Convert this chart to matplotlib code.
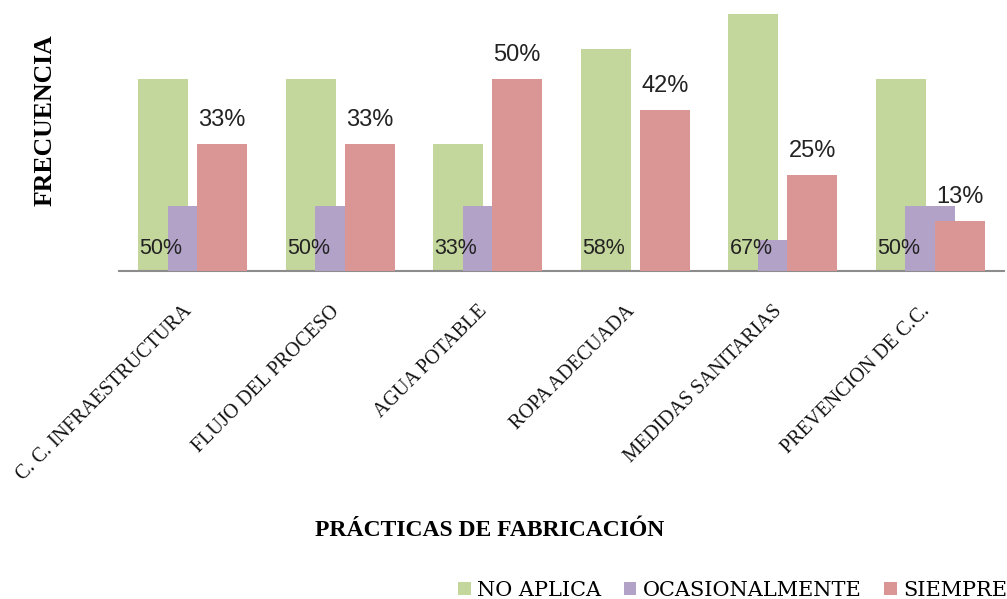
import matplotlib
matplotlib.use("Agg")
import matplotlib.pyplot as plt
from matplotlib.patches import Patch
import numpy as np

# Categories and percentage values per response
categorias = ["C. C. INFRAESTRUCTURA", "FLUJO DEL PROCESO", "AGUA POTABLE",
              "ROPA ADECUADA", "MEDIDAS SANITARIAS", "PREVENCION DE C.C."]
no_aplica = [50, 50, 33, 58, 67, 50]
ocasionalmente = [17, 17, 17, 0, 8, 17]
siempre = [33, 33, 50, 42, 25, 13]

series_names = ["NO APLICA", "OCASIONALMENTE", "SIEMPRE"]
colores = ["#C3D69B", "#B3A2C7", "#D99694"]

W, H = 1007, 599
fig = plt.figure(figsize=(W / 100, H / 100), dpi=100)
ax = fig.add_axes([119 / W, (H - 271) / H, (1004 - 119) / W, 268.5 / H])

x = np.arange(len(categorias))
ancho = 0.34
desp = 0.2

ax.bar(x - desp, no_aplica, width=ancho, color=colores[0], zorder=2)
ax.bar(x, ocasionalmente, width=ancho, color=colores[1], zorder=3)
ax.bar(x + desp, siempre, width=ancho, color=colores[2], zorder=4)

ax.set_xlim(-0.5, len(categorias) - 0.5)
ax.set_ylim(0, 70)

# value labels: SIEMPRE above its bar, NO APLICA at the base of its bar
for xi, v in zip(x, siempre):
    ax.annotate(f"{v}%", (xi + desp, v), xytext=(0, 17.3), textcoords="offset points",
                ha="center", va="center", fontsize=17, family="Liberation Sans",
                color="#222222", zorder=6, annotation_clip=False)
for xi, v in zip(x, no_aplica):
    ax.annotate(f"{v}%", (xi - desp, 0), xytext=(-1.6, 16.5), textcoords="offset points",
                ha="center", va="center", fontsize=15.5, family="Liberation Sans",
                color="#222222", zorder=6, annotation_clip=False)

ax.set_xticks(x)
ax.set_xticklabels(categorias, rotation=45, ha="right", va="baseline",
                   rotation_mode="anchor", fontsize=14.5, family="Liberation Serif",
                   color="#111111")
ax.tick_params(axis="x", length=0, pad=29.5)
ax.set_yticks([])

for s in ["top", "right", "left"]:
    ax.spines[s].set_visible(False)
ax.spines["bottom"].set_color("#8c8c8c")
ax.spines["bottom"].set_linewidth(1.5)

fig.text(45 / W, 1 - 120 / H, "FRECUENCIA", rotation=90, ha="center", va="center",
         fontsize=18.5, fontweight="bold", family="Liberation Serif")
fig.text(490 / W, 1 - 530 / H, "PRÁCTICAS DE FABRICACIÓN", ha="center", va="center",
         fontsize=17, fontweight="bold", family="Liberation Serif")

handles = [Patch(facecolor=c, edgecolor="none") for c in colores]
fig.legend(handles, series_names, ncol=3, loc="center right",
           bbox_to_anchor=(1.0, 1 - 590 / H), frameon=False,
           prop={"family": "DejaVu Serif", "size": 15},
           handlelength=0.6, handleheight=0.6, handletextpad=0.3,
           columnspacing=1.1, borderaxespad=0, borderpad=0)

fig.savefig("out.png", dpi=100)
